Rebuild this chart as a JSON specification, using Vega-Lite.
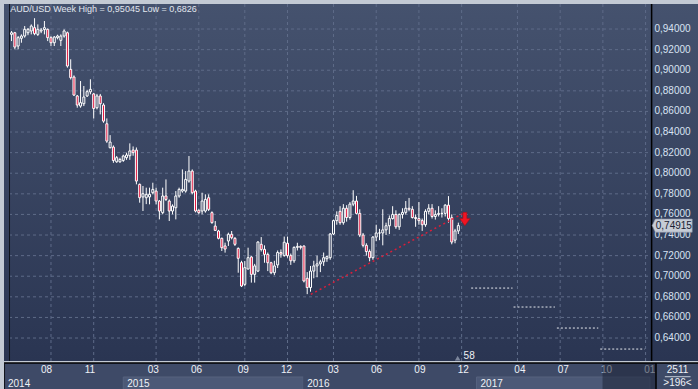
{
  "$schema": "https://vega.github.io/schema/vega-lite/v6.json",
  "background": "#c3cad4",
  "padding": {"left": 3, "top": 3, "right": 0, "bottom": 1},
  "spacing": 0,
  "config": {"view": {"stroke": null}, "font": "Liberation Sans", "concat": {"spacing": 0}},
  "datasets": {
    "candles": [
      {"i":0,"o":0.9348,"h":0.9381,"l":0.9283,"c":0.9364},
      {"i":1,"o":0.9364,"h":0.9372,"l":0.9203,"c":0.9225},
      {"i":2,"o":0.9235,"h":0.9332,"l":0.9203,"c":0.9316},
      {"i":3,"o":0.9310,"h":0.9348,"l":0.9267,"c":0.9332},
      {"i":4,"o":0.9332,"h":0.9429,"l":0.9316,"c":0.9397},
      {"i":5,"o":0.9364,"h":0.9410,"l":0.9340,"c":0.9397},
      {"i":6,"o":0.9381,"h":0.9445,"l":0.9348,"c":0.9429},
      {"i":7,"o":0.9413,"h":0.9505,"l":0.9340,"c":0.9355},
      {"i":8,"o":0.9348,"h":0.9445,"l":0.9332,"c":0.9397},
      {"i":9,"o":0.9380,"h":0.9410,"l":0.9360,"c":0.9390},
      {"i":10,"o":0.9395,"h":0.9478,"l":0.9348,"c":0.9413},
      {"i":11,"o":0.9397,"h":0.9405,"l":0.9283,"c":0.9316},
      {"i":12,"o":0.9316,"h":0.9330,"l":0.9235,"c":0.9267},
      {"i":13,"o":0.9267,"h":0.9332,"l":0.9235,"c":0.9322},
      {"i":14,"o":0.9316,"h":0.9345,"l":0.9300,"c":0.9332},
      {"i":15,"o":0.9290,"h":0.9348,"l":0.9235,"c":0.9332},
      {"i":16,"o":0.9332,"h":0.9397,"l":0.9316,"c":0.9381},
      {"i":17,"o":0.9364,"h":0.9375,"l":0.9025,"c":0.9041},
      {"i":18,"o":0.9008,"h":0.9106,"l":0.8910,"c":0.8928},
      {"i":19,"o":0.8934,"h":0.8950,"l":0.8750,"c":0.8759},
      {"i":20,"o":0.8750,"h":0.8760,"l":0.8636,"c":0.8662},
      {"i":21,"o":0.8652,"h":0.8895,"l":0.8636,"c":0.8685},
      {"i":22,"o":0.8675,"h":0.8847,"l":0.8652,"c":0.8740},
      {"i":23,"o":0.8750,"h":0.8810,"l":0.8740,"c":0.8792},
      {"i":24,"o":0.8790,"h":0.8912,"l":0.8766,"c":0.8814},
      {"i":25,"o":0.8770,"h":0.8780,"l":0.8532,"c":0.8629},
      {"i":26,"o":0.8636,"h":0.8770,"l":0.8620,"c":0.8750},
      {"i":27,"o":0.8750,"h":0.8770,"l":0.8571,"c":0.8675},
      {"i":28,"o":0.8662,"h":0.8680,"l":0.8490,"c":0.8506},
      {"i":29,"o":0.8480,"h":0.8532,"l":0.8295,"c":0.8312},
      {"i":30,"o":0.8248,"h":0.8370,"l":0.8241,"c":0.8302},
      {"i":31,"o":0.8254,"h":0.8270,"l":0.8101,"c":0.8124},
      {"i":32,"o":0.8111,"h":0.8167,"l":0.8101,"c":0.8151},
      {"i":33,"o":0.8111,"h":0.8150,"l":0.8101,"c":0.8134},
      {"i":34,"o":0.8124,"h":0.8180,"l":0.8110,"c":0.8167},
      {"i":35,"o":0.8151,"h":0.8200,"l":0.8130,"c":0.8177},
      {"i":36,"o":0.8170,"h":0.8290,"l":0.8130,"c":0.8216},
      {"i":37,"o":0.8225,"h":0.8260,"l":0.8170,"c":0.8200},
      {"i":38,"o":0.8225,"h":0.8250,"l":0.7892,"c":0.7924},
      {"i":39,"o":0.7892,"h":0.7900,"l":0.7714,"c":0.7762},
      {"i":40,"o":0.7770,"h":0.7876,"l":0.7633,"c":0.7801},
      {"i":41,"o":0.7762,"h":0.7860,"l":0.7700,"c":0.7795},
      {"i":42,"o":0.7770,"h":0.7860,"l":0.7698,"c":0.7795},
      {"i":43,"o":0.7811,"h":0.7908,"l":0.7795,"c":0.7843},
      {"i":44,"o":0.7827,"h":0.7860,"l":0.7698,"c":0.7730},
      {"i":45,"o":0.7730,"h":0.7740,"l":0.7552,"c":0.7633},
      {"i":46,"o":0.7617,"h":0.7860,"l":0.7601,"c":0.7779},
      {"i":47,"o":0.7779,"h":0.7940,"l":0.7730,"c":0.7746},
      {"i":48,"o":0.7730,"h":0.7745,"l":0.7536,"c":0.7633},
      {"i":49,"o":0.7633,"h":0.7698,"l":0.7601,"c":0.7681},
      {"i":50,"o":0.7665,"h":0.7827,"l":0.7552,"c":0.7779},
      {"i":51,"o":0.7779,"h":0.7860,"l":0.7762,"c":0.7843},
      {"i":52,"o":0.7827,"h":0.8037,"l":0.7811,"c":0.7843},
      {"i":53,"o":0.7827,"h":0.8021,"l":0.7811,"c":0.7940},
      {"i":54,"o":0.7924,"h":0.8167,"l":0.7908,"c":0.8021},
      {"i":55,"o":0.8021,"h":0.8037,"l":0.7795,"c":0.7811},
      {"i":56,"o":0.7827,"h":0.7840,"l":0.7620,"c":0.7633},
      {"i":57,"o":0.7640,"h":0.7650,"l":0.7601,"c":0.7617},
      {"i":58,"o":0.7633,"h":0.7811,"l":0.7601,"c":0.7730},
      {"i":59,"o":0.7633,"h":0.7795,"l":0.7617,"c":0.7746},
      {"i":60,"o":0.7762,"h":0.7795,"l":0.7633,"c":0.7649},
      {"i":61,"o":0.7617,"h":0.7630,"l":0.7510,"c":0.7520},
      {"i":62,"o":0.7487,"h":0.7536,"l":0.7439,"c":0.7445},
      {"i":63,"o":0.7439,"h":0.7450,"l":0.7358,"c":0.7368},
      {"i":64,"o":0.7368,"h":0.7375,"l":0.7245,"c":0.7277},
      {"i":65,"o":0.7294,"h":0.7326,"l":0.7229,"c":0.7264},
      {"i":66,"o":0.7342,"h":0.7423,"l":0.7294,"c":0.7407},
      {"i":67,"o":0.7407,"h":0.7439,"l":0.7358,"c":0.7374},
      {"i":68,"o":0.7368,"h":0.7380,"l":0.7294,"c":0.7310},
      {"i":69,"o":0.7270,"h":0.7280,"l":0.7034,"c":0.7174},
      {"i":70,"o":0.7132,"h":0.7150,"l":0.6895,"c":0.6905},
      {"i":71,"o":0.6921,"h":0.7148,"l":0.6905,"c":0.7083},
      {"i":72,"o":0.7070,"h":0.7277,"l":0.7066,"c":0.7180},
      {"i":73,"o":0.7187,"h":0.7195,"l":0.6938,"c":0.7018},
      {"i":74,"o":0.7018,"h":0.7120,"l":0.6938,"c":0.7100},
      {"i":75,"o":0.7050,"h":0.7340,"l":0.7040,"c":0.7332},
      {"i":76,"o":0.7310,"h":0.7380,"l":0.7240,"c":0.7260},
      {"i":77,"o":0.7261,"h":0.7300,"l":0.7131,"c":0.7212},
      {"i":78,"o":0.7212,"h":0.7230,"l":0.7050,"c":0.7131},
      {"i":79,"o":0.7131,"h":0.7140,"l":0.7020,"c":0.7034},
      {"i":80,"o":0.7034,"h":0.7150,"l":0.7010,"c":0.7100},
      {"i":81,"o":0.7110,"h":0.7250,"l":0.7080,"c":0.7230},
      {"i":82,"o":0.7230,"h":0.7260,"l":0.7180,"c":0.7215},
      {"i":83,"o":0.7200,"h":0.7385,"l":0.7190,"c":0.7330},
      {"i":84,"o":0.7320,"h":0.7385,"l":0.7180,"c":0.7200},
      {"i":85,"o":0.7200,"h":0.7220,"l":0.7110,"c":0.7150},
      {"i":86,"o":0.7150,"h":0.7290,"l":0.7130,"c":0.7280},
      {"i":87,"o":0.7280,"h":0.7325,"l":0.7250,"c":0.7290},
      {"i":88,"o":0.7290,"h":0.7300,"l":0.7260,"c":0.7280},
      {"i":89,"o":0.7293,"h":0.7300,"l":0.6940,"c":0.6954},
      {"i":90,"o":0.6980,"h":0.7040,"l":0.6826,"c":0.6890},
      {"i":91,"o":0.6890,"h":0.7100,"l":0.6850,"c":0.7050},
      {"i":92,"o":0.7050,"h":0.7150,"l":0.6980,"c":0.7100},
      {"i":93,"o":0.7100,"h":0.7200,"l":0.6990,"c":0.7120},
      {"i":94,"o":0.7120,"h":0.7160,"l":0.7040,"c":0.7140},
      {"i":95,"o":0.7140,"h":0.7230,"l":0.7100,"c":0.7180},
      {"i":96,"o":0.7170,"h":0.7200,"l":0.7140,"c":0.7190},
      {"i":97,"o":0.7180,"h":0.7420,"l":0.7160,"c":0.7410},
      {"i":98,"o":0.7410,"h":0.7550,"l":0.7400,"c":0.7540},
      {"i":99,"o":0.7540,"h":0.7630,"l":0.7500,"c":0.7590},
      {"i":100,"o":0.7630,"h":0.7680,"l":0.7500,"c":0.7520},
      {"i":101,"o":0.7520,"h":0.7700,"l":0.7500,"c":0.7660},
      {"i":102,"o":0.7660,"h":0.7690,"l":0.7530,"c":0.7570},
      {"i":103,"o":0.7570,"h":0.7720,"l":0.7550,"c":0.7700},
      {"i":104,"o":0.7700,"h":0.7835,"l":0.7680,"c":0.7730},
      {"i":105,"o":0.7730,"h":0.7780,"l":0.7600,"c":0.7610},
      {"i":106,"o":0.7610,"h":0.7650,"l":0.7380,"c":0.7400},
      {"i":107,"o":0.7400,"h":0.7420,"l":0.7280,"c":0.7300},
      {"i":108,"o":0.7300,"h":0.7320,"l":0.7200,"c":0.7240},
      {"i":109,"o":0.7240,"h":0.7260,"l":0.7145,"c":0.7180},
      {"i":110,"o":0.7180,"h":0.7390,"l":0.7160,"c":0.7380},
      {"i":111,"o":0.7380,"h":0.7500,"l":0.7340,"c":0.7420},
      {"i":112,"o":0.7420,"h":0.7460,"l":0.7350,"c":0.7420},
      {"i":113,"o":0.7420,"h":0.7650,"l":0.7300,"c":0.7450},
      {"i":114,"o":0.7450,"h":0.7520,"l":0.7400,"c":0.7490},
      {"i":115,"o":0.7490,"h":0.7590,"l":0.7410,"c":0.7560},
      {"i":116,"o":0.7560,"h":0.7680,"l":0.7550,"c":0.7600},
      {"i":117,"o":0.7600,"h":0.7640,"l":0.7460,"c":0.7480},
      {"i":118,"o":0.7480,"h":0.7610,"l":0.7450,"c":0.7600},
      {"i":119,"o":0.7600,"h":0.7660,"l":0.7560,"c":0.7620},
      {"i":120,"o":0.7620,"h":0.7730,"l":0.7600,"c":0.7660},
      {"i":121,"o":0.7660,"h":0.7760,"l":0.7630,"c":0.7650},
      {"i":122,"o":0.7650,"h":0.7680,"l":0.7560,"c":0.7570},
      {"i":123,"o":0.7570,"h":0.7600,"l":0.7480,"c":0.7560},
      {"i":124,"o":0.7560,"h":0.7720,"l":0.7500,"c":0.7540},
      {"i":125,"o":0.7540,"h":0.7560,"l":0.7440,"c":0.7500},
      {"i":126,"o":0.7500,"h":0.7650,"l":0.7480,"c":0.7630},
      {"i":127,"o":0.7630,"h":0.7700,"l":0.7600,"c":0.7660},
      {"i":128,"o":0.7660,"h":0.7700,"l":0.7560,"c":0.7580},
      {"i":129,"o":0.7580,"h":0.7640,"l":0.7550,"c":0.7600},
      {"i":130,"o":0.7600,"h":0.7680,"l":0.7580,"c":0.7610},
      {"i":131,"o":0.7610,"h":0.7660,"l":0.7570,"c":0.7610},
      {"i":132,"o":0.7610,"h":0.7700,"l":0.7580,"c":0.7690},
      {"i":133,"o":0.7690,"h":0.7778,"l":0.7520,"c":0.7560},
      {"i":134,"o":0.7568,"h":0.7600,"l":0.7310,"c":0.7332},
      {"i":135,"o":0.7350,"h":0.7460,"l":0.7320,"c":0.7440},
      {"i":136,"o":0.7440,"h":0.7520,"l":0.7410,"c":0.74915}
    ],
    "months": [
      {"i":12,"label":"08"},{"i":25,"label":"11"},{"i":44,"label":"03"},{"i":57,"label":"06"},
      {"i":71,"label":"09"},{"i":84,"label":"12"},{"i":98,"label":"03"},{"i":111,"label":"06"},
      {"i":124,"label":"09"},{"i":137,"label":"12"},{"i":154,"label":"04"},{"i":167,"label":"07"},
      {"i":180,"label":"10"},{"i":193,"label":"01"}
    ],
    "ticks": [
      {"v":0.64,"label":"0,64000"},{"v":0.66,"label":"0,66000"},{"v":0.68,"label":"0,68000"},
      {"v":0.70,"label":"0,70000"},{"v":0.72,"label":"0,72000"},{"v":0.74,"label":"0,74000"},
      {"v":0.76,"label":"0,76000"},{"v":0.78,"label":"0,78000"},{"v":0.80,"label":"0,80000"},
      {"v":0.82,"label":"0,82000"},{"v":0.84,"label":"0,84000"},{"v":0.86,"label":"0,86000"},
      {"v":0.88,"label":"0,88000"},{"v":0.90,"label":"0,90000"},{"v":0.92,"label":"0,92000"},
      {"v":0.94,"label":"0,94000"}
    ],
    "future": [
      {"i1":139.9,"i2":152.5,"v":0.6885},
      {"i1":152.8,"i2":165.4,"v":0.6701},
      {"i1":166.0,"i2":178.6,"v":0.6497},
      {"i1":179.2,"i2":192.7,"v":0.6293}
    ],
    "trend": [{"i":91.1,"v":0.6824},{"i":137.2,"v":0.7605}],
    "years": [
      {"year":"2014","start":-0.78,"end":35},
      {"year":"2015","start":35,"end":89},
      {"year":"2016","start":89,"end":141},
      {"year":"2017","start":141,"end":193}
    ]
  },
  "vconcat": [
    {
      "width": 695,
      "height": 357,
      "view": {"stroke": null, "fill": {"gradient": "linear", "x1": 0, "y1": 0, "x2": 0, "y2": 1, "stops": [{"offset": 0, "color": "#45526e"}, {"offset": 1, "color": "#2a3552"}]}},
      "encoding": {
        "x": {"type": "quantitative", "scale": {"domain": [-0.78, 207.74], "nice": false, "zero": false}, "axis": null},
        "y": {"type": "quantitative", "scale": {"domain": [0.6177, 0.9643], "nice": false, "zero": false}, "axis": null}
      },
      "layer": [
        {
          "data": {"name": "ticks"},
          "mark": {"type": "rule", "color": "#5e6b88", "strokeDash": [3, 3], "strokeWidth": 1},
          "encoding": {"y": {"field": "v", "type": "quantitative"}, "x": {"datum": -0.78}, "x2": {"datum": 194.84}}
        },
        {
          "data": {"name": "months"},
          "transform": [{"filter": "datum.i < 194"}],
          "mark": {"type": "rule", "color": "#5e6b88", "strokeDash": [3, 3], "strokeWidth": 1},
          "encoding": {"x": {"field": "i", "type": "quantitative"}, "y": {"datum": 0.6177}, "y2": {"datum": 0.9643}}
        },
        {
          "data": {"name": "future"},
          "mark": {"type": "rule", "color": "#e6e9ef", "strokeDash": [2, 2], "strokeWidth": 1},
          "encoding": {"x": {"field": "i1", "type": "quantitative"}, "x2": {"field": "i2"}, "y": {"field": "v", "type": "quantitative"}}
        },
        {
          "data": {"name": "candles"},
          "mark": {"type": "rule", "color": "#ffffff", "strokeWidth": 1},
          "encoding": {"x": {"field": "i", "type": "quantitative"}, "y": {"field": "l", "type": "quantitative"}, "y2": {"field": "h"}}
        },
        {
          "data": {"name": "candles"},
          "mark": {"type": "bar", "width": 2, "stroke": "#ffffff", "strokeWidth": 1},
          "encoding": {
            "x": {"field": "i", "type": "quantitative"},
            "y": {"field": "o", "type": "quantitative"},
            "y2": {"field": "c"},
            "fill": {"condition": {"test": "datum.c >= datum.o", "value": "#36415e"}, "value": "#e0143c"}
          }
        },
        {
          "data": {"name": "trend"},
          "mark": {"type": "line", "color": "#d91e3a", "strokeDash": [2, 3], "strokeWidth": 1.5},
          "encoding": {"x": {"field": "i", "type": "quantitative"}, "y": {"field": "v", "type": "quantitative"}}
        },
        {
          "data": {"values": [{"i": 138.0, "v": 0.7555}]},
          "mark": {"type": "point", "shape": "M-0.3,-1L0.3,-1L0.3,-0.1L0.8,-0.1L0,1L-0.8,-0.1L-0.3,-0.1Z", "size": 180, "filled": true, "fill": "#f01422", "stroke": "#9a1020", "strokeWidth": 0.6, "opacity": 1},
          "encoding": {"x": {"field": "i", "type": "quantitative"}, "y": {"field": "v", "type": "quantitative"}}
        },
        {
          "data": {"values": [{"i": 135.8, "v": 0.6205}]},
          "mark": {"type": "point", "shape": "triangle-up", "size": 30, "filled": true, "fill": "#7c869c", "opacity": 1},
          "encoding": {"x": {"field": "i", "type": "quantitative"}, "y": {"field": "v", "type": "quantitative"}}
        },
        {
          "data": {"values": [{"i": 137.6, "v": 0.6230, "label": "58"}]},
          "mark": {"type": "text", "align": "left", "baseline": "middle", "fontSize": 10, "color": "#eef1f6"},
          "encoding": {"x": {"field": "i", "type": "quantitative"}, "y": {"field": "v", "type": "quantitative"}, "text": {"field": "label"}}
        },
        {
          "data": {"name": "ticks"},
          "mark": {"type": "text", "align": "left", "baseline": "middle", "fontSize": 10, "color": "#d8e2f2"},
          "encoding": {"y": {"field": "v", "type": "quantitative"}, "x": {"datum": 195.7}, "text": {"field": "label"}}
        },
        {
          "data": {"values": [{"x": 194.84}]},
          "mark": {"type": "rule", "color": "#000000", "strokeWidth": 1.5},
          "encoding": {"x": {"field": "x", "type": "quantitative"}}
        },
        {
          "data": {"values": [{"x": -0.62}]},
          "mark": {"type": "rule", "color": "#10141c", "strokeWidth": 1},
          "encoding": {"x": {"field": "x", "type": "quantitative"}}
        },
        {
          "data": {"values": [{"i": 201.1, "v": 0.74915}]},
          "mark": {"type": "point", "shape": "M-1,0L-0.84,-0.33L1,-0.33L1,0.33L-0.84,0.33Z", "size": 1600, "filled": true, "fill": "#c6ccd6", "stroke": "#8d96a8", "strokeWidth": 0.6, "opacity": 1},
          "encoding": {"x": {"field": "i", "type": "quantitative"}, "y": {"field": "v", "type": "quantitative"}}
        },
        {
          "data": {"values": [{"i": 201.6, "v": 0.74915, "label": "0,74915"}]},
          "mark": {"type": "text", "align": "center", "baseline": "middle", "fontSize": 10, "color": "#1a2233"},
          "encoding": {"x": {"field": "i", "type": "quantitative"}, "y": {"field": "v", "type": "quantitative"}, "text": {"field": "label"}}
        },
        {
          "data": {"values": [{"i": -0.4, "v": 0.9594, "label": "AUD/USD Week High = 0,95045 Low = 0,6826"}]},
          "mark": {"type": "text", "align": "left", "baseline": "middle", "fontSize": 9, "color": "#e2e7ef"},
          "encoding": {"x": {"field": "i", "type": "quantitative"}, "y": {"field": "v", "type": "quantitative"}, "text": {"field": "label"}}
        }
      ]
    },
    {
      "width": 695,
      "height": 28,
      "view": {"stroke": null, "fill": "#3e4a67"},
      "encoding": {
        "x": {"type": "quantitative", "scale": {"domain": [-0.78, 207.74], "nice": false, "zero": false}, "axis": null},
        "y": {"type": "quantitative", "scale": {"domain": [0, 2], "nice": false, "zero": false}, "axis": null}
      },
      "layer": [
        {
          "data": {"name": "years"},
          "mark": {"type": "rect", "stroke": "#56627f", "strokeWidth": 1},
          "encoding": {
            "x": {"field": "start", "type": "quantitative"},
            "x2": {"field": "end"},
            "y": {"datum": 0},
            "y2": {"datum": 1},
            "fill": {"condition": {"test": "datum.year == '2015' || datum.year == '2017'", "value": "#4c5977"}, "value": "#3e4a67"},
            "strokeOpacity": {"condition": {"test": "datum.year == '2015' || datum.year == '2017'", "value": 1}, "value": 0}
          }
        },
        {
          "data": {"name": "months"},
          "mark": {"type": "text", "align": "center", "baseline": "middle", "fontSize": 10, "color": "#eef1f6"},
          "encoding": {"x": {"field": "i", "type": "quantitative"}, "y": {"datum": 1.5}, "text": {"field": "label"}}
        },
        {
          "data": {"name": "years"},
          "mark": {"type": "text", "align": "left", "baseline": "middle", "fontSize": 10, "dx": 4, "color": "#eef1f6"},
          "encoding": {"x": {"field": "start", "type": "quantitative"}, "y": {"datum": 0.5}, "text": {"field": "year"}}
        },
        {
          "data": {"values": [{"a": 178.8, "b": 194.84}]},
          "mark": {"type": "rect", "fill": "#1d2539", "opacity": 0.55},
          "encoding": {"x": {"field": "a", "type": "quantitative"}, "x2": {"field": "b"}, "y": {"datum": 0}, "y2": {"datum": 2}}
        },
        {
          "data": {"values": [{"y": 2}]},
          "mark": {"type": "rule", "color": "#000000", "strokeWidth": 1.5},
          "encoding": {"y": {"field": "y", "type": "quantitative"}}
        },
        {
          "data": {"values": [{"x": 194.84}]},
          "mark": {"type": "rule", "color": "#000000", "strokeWidth": 1.5},
          "encoding": {"x": {"field": "x", "type": "quantitative"}}
        },
        {
          "data": {"values": [{"x": -0.62}]},
          "mark": {"type": "rule", "color": "#10141c", "strokeWidth": 1},
          "encoding": {"x": {"field": "x", "type": "quantitative"}}
        },
        {
          "data": {"values": [{"i": 201.3, "v": 1.5, "label": "2511"}, {"i": 201.3, "v": 0.55, "label": ">196<"}]},
          "mark": {"type": "text", "align": "center", "baseline": "middle", "fontSize": 10, "color": "#eef1f6"},
          "encoding": {"x": {"field": "i", "type": "quantitative"}, "y": {"field": "v", "type": "quantitative"}, "text": {"field": "label"}}
        },
        {
          "data": {"values": [{"a": 197.5, "b": 205.2, "v": 1.02}]},
          "mark": {"type": "rule", "color": "#c8d0dc", "strokeWidth": 1},
          "encoding": {"x": {"field": "a", "type": "quantitative"}, "x2": {"field": "b"}, "y": {"field": "v", "type": "quantitative"}}
        }
      ]
    }
  ]
}
